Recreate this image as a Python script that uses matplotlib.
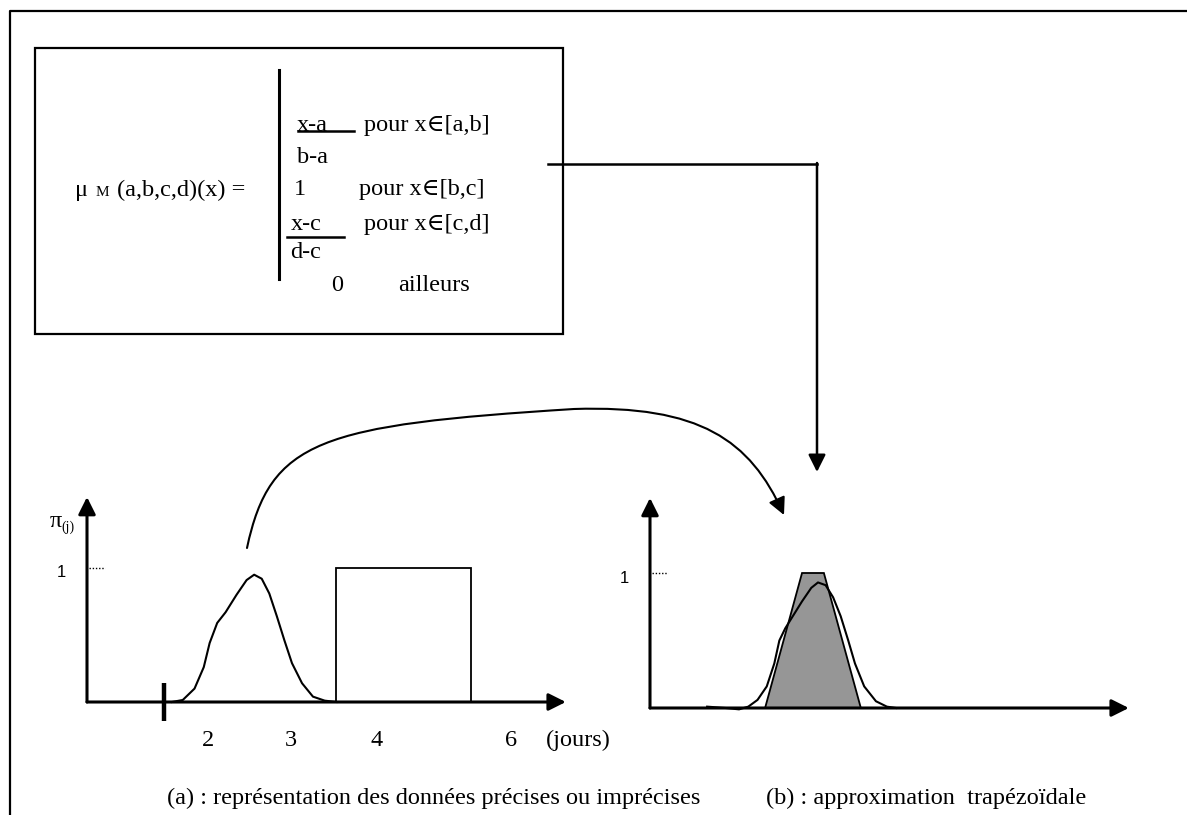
import matplotlib.pyplot as plt
from matplotlib.patches import Rectangle, Polygon, FancyArrowPatch
from matplotlib.path import Path

plt.rcParams['font.family'] = ['Liberation Serif', 'DejaVu Serif']

W, H = 1187, 815

# (a) imprecise duration, possibility degree vs days
left_days = [1.57, 1.70, 1.84, 1.95, 2.02, 2.11, 2.21, 2.34, 2.46, 2.55,
             2.64, 2.73, 2.82, 2.91, 3.00, 3.12, 3.25, 3.39, 3.53]
left_pi = [0.0, 0.015, 0.10, 0.26, 0.44, 0.59, 0.67, 0.80, 0.91, 0.95,
           0.92, 0.81, 0.64, 0.46, 0.29, 0.14, 0.04, 0.01, 0.0]
interval_days = [3.52, 5.13]   # imprecise interval, pi = 1 inside
precise_day = 1.48             # precise value (thick mark)
tick_pos = [2.0, 2.99, 4.01, 5.61]
tick_labels = ['2', '3', '4', '6']

# (b) same kind of curve and its trapezoidal approximation
right_days = [1.24, 1.46, 1.62, 1.73, 1.84, 1.95, 2.04, 2.10, 2.17, 2.26, 2.37,
              2.48, 2.56, 2.65, 2.74, 2.83, 2.92, 3.00, 3.11, 3.25, 3.38, 3.49]
right_pi = [0.01, 0.0, -0.01, 0.01, 0.06, 0.16, 0.33, 0.50, 0.59, 0.68, 0.79,
            0.89, 0.93, 0.91, 0.82, 0.68, 0.50, 0.33, 0.16, 0.05, 0.01, 0.0]
trap_days = [1.93, 2.37, 2.63, 3.07]
trap_pi = [0, 1, 1, 0]

formula_rows = [
    ('x-a', 'pour x\u2208[a,b]'),
    ('b-a', ''),
    ('1', 'pour x\u2208[b,c]'),
    ('x-c', 'pour x\u2208[c,d]'),
    ('d-c', ''),
    ('0', 'ailleurs'),
]
caption_a = '(a) : représentation des données précises ou imprécises'
caption_b = '(b) : approximation  trapézoïdale'

FS = 17.5
fig = plt.figure(figsize=(W / 100, H / 100), dpi=100)


def panel(x_org, y_org, px_day, px_unit, day_org):
    # full-figure axes whose limits put (day_org, 0) at pixel (x_org, y_org)
    ax = fig.add_axes([0, 0, 1, 1])
    ax.set_xlim(day_org - x_org / px_day, day_org + (W - x_org) / px_day)
    ax.set_ylim(-(H - y_org) / px_unit, y_org / px_unit)
    ax.axis('off')
    return ax


def axes_arrows(ax, x0, x_tip, y_tip):
    for tip in [(x_tip, 0), (x0, y_tip)]:
        ax.annotate('', xy=tip, xytext=(x0, 0),
                    arrowprops=dict(arrowstyle='-|>', mutation_scale=26,
                                    lw=2.2, color='black',
                                    shrinkA=0, shrinkB=0))


# ---- panel (a)
axa = panel(87, 702, 84, 134, 0.56)
axes_arrows(axa, 0.56, 6.26, 1.53)
axa.plot(left_days, left_pi, color='black', lw=1.5, solid_joinstyle='round')
axa.add_patch(Rectangle((interval_days[0], 0), interval_days[1] - interval_days[0], 1,
                        fill=False, ec='black', lw=1.3))
axa.plot([precise_day, precise_day], [0.14, -0.14], color='black', lw=3.2,
         solid_capstyle='butt')
axa.plot([0.58, 0.77], [1.0, 1.0], color='black', lw=1, ls=(0, (1, 1.3)))
axa.text(0.26, 0.97, '1', family='Liberation Sans', fontsize=12,
         ha='center', va='center')
for p, lab in zip(tick_pos, tick_labels):
    axa.text(p, -0.33, lab, fontsize=FS, ha='center', va='baseline')
axa.text(6.02, -0.33, '(jours)', fontsize=FS, ha='left', va='baseline')

# ---- panel (b)
axb = panel(650, 708, 84, 135, 0.56)
axes_arrows(axb, 0.56, 6.26, 1.556)
axb.add_patch(Polygon(list(zip(trap_days, trap_pi)), closed=True,
                      fc='#969696', ec='black', lw=1.3))
axb.plot(right_days, right_pi, color='black', lw=1.5, solid_joinstyle='round')
axb.plot([0.58, 0.77], [1.0, 1.0], color='black', lw=1, ls=(0, (1, 1.3)))
axb.text(0.26, 0.96, '1', family='Liberation Sans', fontsize=12,
         ha='center', va='center')

# ---- overlay in pixel coordinates: frame, formula, connectors, captions
ov = fig.add_axes([0, 0, 1, 1])
ov.set_xlim(0, W)
ov.set_ylim(H, 0)
ov.axis('off')

ov.plot([9.5, 9.5, W], [H, 11, 11], color='black', lw=1.6)
ov.add_patch(Rectangle((35, 48), 528, 286, fill=False, ec='black', lw=1.6))
ov.plot([279, 279], [70, 279], color='black', lw=2.2)

ov.text(75, 196, '\u03bc', fontsize=FS, va='baseline')
ov.text(96, 196, 'M', fontsize=11, va='baseline')
ov.text(117, 196, '(a,b,c,d)(x) =', fontsize=FS, va='baseline')

row_y = [131, 163, 195, 230, 258, 291]
row_x = [297, 297, 294, 291, 290, 331]
cond_x = [364, None, 359, 364, None, 398]
for (a, b), y, x, cx in zip(formula_rows, row_y, row_x, cond_x):
    ov.text(x, y, a, fontsize=FS, va='baseline')
    if cx is not None:
        ov.text(cx, y, b, fontsize=FS, va='baseline')
ov.plot([298, 354], [131, 131], color='black', lw=1.8)
ov.plot([287, 344], [237, 237], color='black', lw=1.8)

# formula -> trapezoid
ov.plot([548, 817], [164, 164], color='black', lw=1.8)
ov.annotate('', xy=(817, 472), xytext=(817, 163),
            arrowprops=dict(arrowstyle='-|>', mutation_scale=26, lw=1.8,
                            color='black', shrinkA=0, shrinkB=0))
# curve (a) -> (b)
verts = [(247, 548), (270, 440), (320, 425), (574, 409),
         (700, 405), (750, 440), (784, 515)]
codes = [Path.MOVETO] + [Path.CURVE4] * 6
ov.add_patch(FancyArrowPatch(path=Path(verts, codes), arrowstyle='-|>',
                             mutation_scale=26, lw=1.5, color='black'))

ov.text(50, 527, '\u03c0', fontsize=FS, va='baseline')
ov.text(61, 531, '(j)', fontsize=10, va='baseline')

ov.text(167, 804, caption_a, fontsize=FS, va='baseline')
ov.text(766, 804, caption_b, fontsize=FS, va='baseline')

fig.savefig('out.png', dpi=100)
